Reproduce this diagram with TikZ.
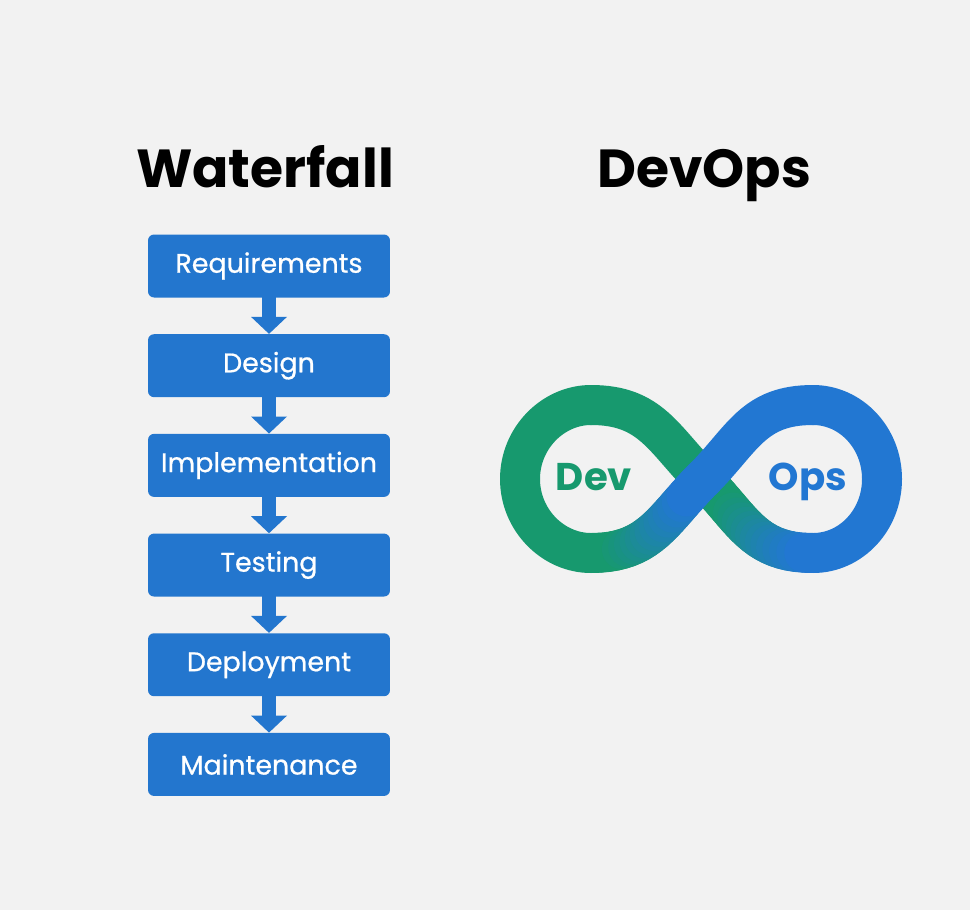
\documentclass[tikz,border=0pt]{standalone}
\usepackage{fontspec}
\setmainfont{Poppins}
\newfontfamily\stagefont{Poppins}[FakeBold=0.7]
\usetikzlibrary{arrows.meta}
\usetikzlibrary{positioning}

\definecolor{bgpaper}{RGB}{242,242,242}
\definecolor{stageblue}{RGB}{35,118,206}
\definecolor{devgreen}{RGB}{23,153,110}
\definecolor{opsblue}{RGB}{34,119,210}

\begin{document}
\begin{tikzpicture}[
  x=0.02cm, y=-0.02cm,
  title/.style={font=\fontsize{30.5}{36}\selectfont\bfseries,text=black,inner sep=0pt},
  stage/.style={fill=stageblue,rounded corners=0.12cm,minimum width=4.84cm,
    minimum height=1.26cm,text=white,font=\stagefont\fontsize{15.3}{18}\selectfont,inner sep=0pt},
  flow/.style={-{Triangle[length=0.34cm,width=0.72cm,line width=0pt]},draw=stageblue,
    line width=0.28cm,shorten <=-1pt},
  ring/.style={line width=0.8cm,line cap=round},
  loopword/.style={font=\fontsize{22}{26}\selectfont\bfseries,inner sep=0pt},
  node distance=0.72cm,
  declare function={bz(\a,\b,\c,\d,\t)=(1-\t)^3*\a+3*(1-\t)^2*\t*\b+3*(1-\t)*\t^2*\c+\t^3*\d;}]

  % Paper
  \fill[bgpaper] (0,0) rectangle (970,910);

  % Headings
  \node[title,anchor=base] (wfTitle) at (265,187) {Waterfall};
  \node[title,anchor=base] (doTitle) at (704,187) {DevOps};

  % Waterfall stages, stacked top to bottom
  \node[stage] (req) at (269,266) {Requirements};
  \node[stage,below=of req] (design) {Design};
  \node[stage,below=of design] (impl) {Implementation};
  \node[stage,below=of impl] (test) {Testing};
  \node[stage,below=of test] (deploy) {Deployment};
  \node[stage,below=of deploy] (maint) {Maintenance};

  \foreach \a/\b in {req/design,design/impl,impl/test,test/deploy,deploy/maint}
    \draw[flow] (\a) -- (\b);

  % DevOps loop: the two outer halves
  \draw[ring,devgreen] (591,405) .. controls (553,405) and (520,438) .. (520,479)
     .. controls (520,520) and (553,553) .. (591,553);
  \draw[ring,opsblue] (813,405) .. controls (851,405) and (882,438) .. (882,479)
     .. controls (882,520) and (851,553) .. (813,553);

  % strand passing under, green turning blue
  \draw[ring,devgreen] (591,405) .. controls (651,405) and (663,439) .. (703,479);
  \foreach \i in {0,...,19} {
    \pgfmathsetmacro\ta{\i/20}
    \pgfmathsetmacro\tb{(\i+1)/20}
    \pgfmathtruncatemacro\mix{max(0,min(100,(\i-5)*100/14))}
    \draw[ring,opsblue!\mix!devgreen] plot[domain=\ta:\tb,samples=3,variable=\t]
      ({bz(703,743,753,813,\t)},{bz(479,519,553,553,\t)});
  }

  % strand passing over, green turning blue
  \foreach \i in {0,...,19} {
    \pgfmathsetmacro\ta{\i/20}
    \pgfmathsetmacro\tb{(\i+1)/20}
    \pgfmathtruncatemacro\mix{max(0,min(100,(\i-3)*100/14))}
    \draw[ring,opsblue!\mix!devgreen] plot[domain=\ta:\tb,samples=3,variable=\t]
      ({bz(591,651,663,703,\t)},{bz(553,553,519,479,\t)});
  }
  \draw[ring,opsblue] (703,479) .. controls (743,439) and (753,405) .. (813,405);

  \node[loopword,text=devgreen,anchor=base] (dev) at (594,490) {Dev};
  \node[loopword,text=opsblue,anchor=base] (ops) at (808,490) {Ops};
\end{tikzpicture}
\end{document}
